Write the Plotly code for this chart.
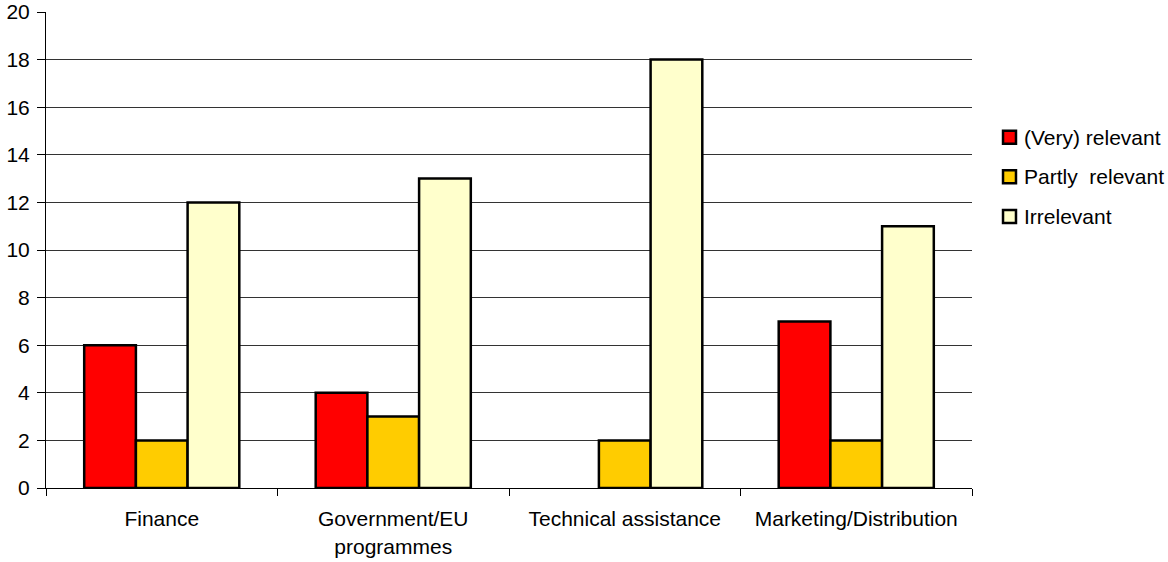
import plotly.graph_objects as go

categories = ["Finance", "Government/EU<br>programmes", "Technical assistance", "Marketing/Distribution"]
very_relevant = [6, 4, 0, 7]
partly_relevant = [2, 3, 2, 2]
irrelevant = [12, 13, 18, 11]

series_names = ["(Very) relevant", "Partly  relevant", "Irrelevant"]
series_values = [very_relevant, partly_relevant, irrelevant]
series_colors = ["#FF0000", "#FFCC00", "#FFFFCC"]

font = dict(family="Liberation Sans, Arial, sans-serif", size=21, color="#000000")

fig = go.Figure()
for name, vals, color in zip(series_names, series_values, series_colors):
    fig.add_trace(go.Bar(
        x=categories, y=vals, name=name, showlegend=False,
        marker=dict(color=color,
                    line=dict(color="#000000",
                              width=[0 if v == 0 else 2.5 for v in vals])),
    ))

# Legend drawn as swatches + labels to the right of the plot area
legend_x0, legend_x1 = 1.0335, 1.0475
legend_y = [0.7368, 0.6538, 0.5705]
half_h = 0.0137
for name, color, yc in zip(series_names, series_colors, legend_y):
    fig.add_shape(type="rect", xref="paper", yref="paper",
                  x0=legend_x0, x1=legend_x1, y0=yc - half_h, y1=yc + half_h,
                  fillcolor=color, line=dict(color="#000000", width=2.5))
    fig.add_annotation(xref="paper", yref="paper", x=legend_x1 + 0.0065, y=yc,
                       xanchor="left", yanchor="middle", text=name,
                       showarrow=False, font=font)

fig.update_layout(
    width=1168, height=562,
    margin=dict(l=46, r=196, t=12, b=74),
    paper_bgcolor="white", plot_bgcolor="white",
    barmode="group", bargap=0.33, bargroupgap=0,
    font=font,
    showlegend=False,
    xaxis=dict(
        showline=True, linecolor="#000000", linewidth=1,
        ticks="outside", tickson="boundaries", ticklen=7, tickcolor="#000000",
        showgrid=False, tickfont=font, ticklabelstandoff=12, automargin=False,
    ),
    yaxis=dict(
        range=[0, 20], tickvals=list(range(0, 21, 2)),
        showline=True, linecolor="#000000", linewidth=1,
        ticks="outside", ticklen=8, tickcolor="#000000",
        showgrid=True, gridcolor="#333333", gridwidth=1,
        zeroline=False, tickfont=font, ticklabelstandoff=3, automargin=False,
        ticklabeloverflow="allow",
    ),
)

fig.write_html("out.html")
